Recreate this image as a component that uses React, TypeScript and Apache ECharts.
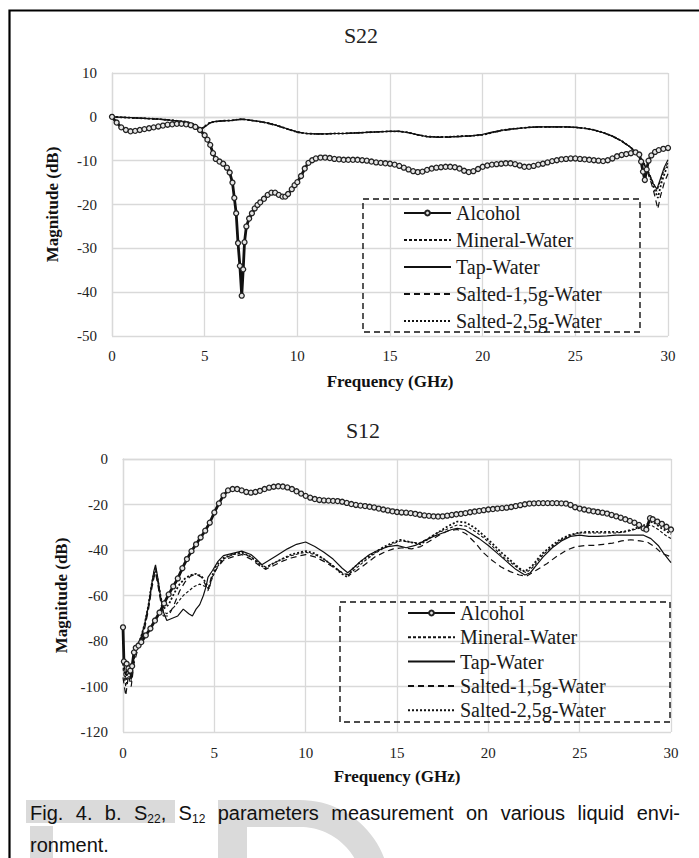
import React, { useEffect, useRef } from 'react';
import * as echarts from 'echarts';

const W = 699;
const H = 858;

const seriesNames = ['Alcohol', 'Mineral-Water', 'Tap-Water', 'Salted-1,5g-Water', 'Salted-2,5g-Water'];

// ---------- S22 ----------
const s22Alcohol = [
  [0, 0], [0.25, -1.3], [0.5, -2.4], [0.75, -3.0], [1.0, -3.3], [1.25, -3.2], [1.5, -3.0], [1.75, -2.8], [2.0, -2.6],
  [2.25, -2.4], [2.5, -2.2], [2.75, -2.0], [3.0, -1.8], [3.25, -1.7], [3.5, -1.6], [3.75, -1.6], [4.0, -1.7], [4.25, -1.9],
  [4.5, -2.3], [4.75, -3.0], [5.0, -4.2], [5.15, -5.2], [5.3, -6.4], [5.45, -8.3], [5.6, -9.6], [5.8, -10.2], [6.0, -10.7],
  [6.2, -11.6], [6.35, -12.7], [6.5, -15], [6.6, -18.5], [6.7, -22], [6.8, -28.8], [6.9, -34], [7.0, -40.8], [7.08, -34.8],
  [7.15, -28.6], [7.25, -25], [7.4, -23.2], [7.55, -22], [7.7, -20.9], [7.85, -20.1], [8.0, -19.5], [8.2, -18.7], [8.4, -17.8],
  [8.6, -17.3], [8.8, -17.3], [9.0, -17.8], [9.2, -18.2], [9.35, -18.2], [9.5, -17.6], [9.7, -16.5], [9.85, -15.6], [10.0, -14.9],
  [10.2, -13.5], [10.4, -11.8], [10.6, -10.5], [10.8, -9.9], [11.0, -9.5], [11.25, -9.3], [11.5, -9.3], [11.75, -9.4], [12.0, -9.6],
  [12.25, -9.7], [12.5, -9.8], [12.75, -9.8], [13.0, -9.8], [13.25, -9.8], [13.5, -9.9], [13.75, -10.0], [14.0, -10.2], [14.25, -10.4],
  [14.5, -10.5], [14.75, -10.6], [15.0, -10.7], [15.25, -10.9], [15.5, -11.2], [15.75, -11.6], [16.0, -12.0], [16.25, -12.4],
  [16.5, -12.6], [16.75, -12.5], [17.0, -12.1], [17.25, -11.8], [17.5, -11.6], [17.75, -11.5], [18.0, -11.4], [18.25, -11.4],
  [18.5, -11.5], [18.75, -11.8], [19.0, -12.3], [19.25, -12.6], [19.5, -12.4], [19.75, -11.9], [20.0, -11.4], [20.25, -11.1],
  [20.5, -10.9], [20.75, -10.8], [21.0, -10.7], [21.25, -10.6], [21.5, -10.6], [21.75, -10.8], [22.0, -11.1], [22.25, -11.4],
  [22.5, -11.4], [22.75, -11.2], [23.0, -10.9], [23.25, -10.7], [23.5, -10.4], [23.75, -10.1], [24.0, -9.9], [24.25, -9.7],
  [24.5, -9.6], [24.75, -9.5], [25.0, -9.5], [25.25, -9.6], [25.5, -9.7], [25.75, -9.8], [26.0, -9.9], [26.25, -10.0],
  [26.5, -10.1], [26.75, -9.9], [27.0, -9.5], [27.25, -9.0], [27.5, -8.7], [27.75, -8.5], [28.0, -8.3], [28.25, -8.1],
  [28.45, -8.6], [28.55, -10.2], [28.65, -12.5], [28.75, -14.4], [28.85, -12], [28.95, -10], [29.1, -8.8], [29.3, -8.0],
  [29.5, -7.6], [29.75, -7.3], [30.0, -7.1],
];

const s22Mineral = [
  [0, 0], [0.5, -0.1], [1, -0.2], [1.5, -0.3], [2, -0.4], [2.5, -0.5], [3, -0.7], [3.5, -0.9], [4, -1.1], [4.5, -1.8],
  [4.8, -2.8], [5.0, -2.2], [5.25, -1.4], [5.5, -1.1], [6, -0.9], [6.5, -0.8], [7, -0.5], [7.5, -0.8], [8, -1.1], [8.5, -1.5],
  [9, -2.1], [9.5, -2.8], [10, -3.5], [10.5, -3.8], [11, -3.9], [11.5, -3.9], [12, -3.8], [12.5, -3.8], [13, -3.7], [13.5, -3.6],
  [14, -3.5], [14.5, -3.4], [15, -3.3], [15.5, -3.3], [16, -3.6], [16.5, -4.1], [17, -4.5], [17.5, -4.6], [18, -4.6], [18.5, -4.5],
  [19, -4.4], [19.5, -4.3], [20, -4.1], [20.5, -3.6], [21, -3.1], [21.5, -2.8], [22, -2.6], [22.5, -2.4], [23, -2.3], [23.5, -2.3],
  [24, -2.3], [24.5, -2.3], [25, -2.4], [25.5, -2.6], [26, -3.0], [26.5, -3.6], [27, -4.4], [27.5, -5.5], [28, -7.0], [28.5, -9.2],
  [28.8, -11.2], [29.0, -13], [29.2, -15], [29.4, -17], [29.6, -14.5], [29.8, -12], [30, -10.5],
];

const s22Tap = [
  [0, 0], [0.5, -0.1], [1, -0.2], [1.5, -0.3], [2, -0.4], [2.5, -0.5], [3, -0.7], [3.5, -0.9], [4, -1.2], [4.5, -1.9],
  [4.8, -2.9], [5.0, -2.3], [5.25, -1.5], [5.5, -1.1], [6, -0.9], [6.5, -0.8], [7, -0.5], [7.5, -0.8], [8, -1.1], [8.5, -1.5],
  [9, -2.1], [9.5, -2.8], [10, -3.4], [10.5, -3.8], [11, -3.9], [11.5, -3.9], [12, -3.8], [12.5, -3.8], [13, -3.7], [13.5, -3.6],
  [14, -3.5], [14.5, -3.4], [15, -3.3], [15.5, -3.3], [16, -3.6], [16.5, -4.1], [17, -4.5], [17.5, -4.6], [18, -4.6], [18.5, -4.5],
  [19, -4.4], [19.5, -4.3], [20, -4.0], [20.5, -3.5], [21, -3.1], [21.5, -2.8], [22, -2.6], [22.5, -2.4], [23, -2.3], [23.5, -2.3],
  [24, -2.3], [24.5, -2.3], [25, -2.4], [25.5, -2.6], [26, -3.0], [26.5, -3.6], [27, -4.4], [27.5, -5.5], [28, -7.0], [28.5, -9.3],
  [28.8, -11.4], [29.0, -13.2], [29.2, -15.2], [29.4, -16.5], [29.6, -14], [29.8, -11.5], [30, -9.8],
];

const s22Salted1 = [
  [0, 0], [0.5, -0.1], [1, -0.2], [1.5, -0.3], [2, -0.4], [2.5, -0.6], [3, -0.7], [3.5, -0.9], [4, -1.2], [4.5, -1.9],
  [4.8, -2.8], [5.0, -2.2], [5.25, -1.4], [5.5, -1.1], [6, -0.9], [6.5, -0.8], [7, -0.6], [7.5, -0.8], [8, -1.1], [8.5, -1.6],
  [9, -2.2], [9.5, -2.9], [10, -3.5], [10.5, -3.8], [11, -3.9], [11.5, -3.9], [12, -3.8], [12.5, -3.8], [13, -3.7], [13.5, -3.6],
  [14, -3.5], [14.5, -3.4], [15, -3.3], [15.5, -3.3], [16, -3.6], [16.5, -4.1], [17, -4.5], [17.5, -4.7], [18, -4.7], [18.5, -4.6],
  [19, -4.5], [19.5, -4.3], [20, -4.1], [20.5, -3.6], [21, -3.2], [21.5, -2.9], [22, -2.6], [22.5, -2.4], [23, -2.3], [23.5, -2.3],
  [24, -2.3], [24.5, -2.3], [25, -2.4], [25.5, -2.6], [26, -3.0], [26.5, -3.6], [27, -4.4], [27.5, -5.6], [28, -7.1], [28.5, -9.4],
  [28.8, -11.6], [29.0, -13.8], [29.2, -16.5], [29.45, -21], [29.6, -18], [29.8, -15], [30, -13],
];

const s22Salted2 = [
  [0, 0], [0.5, -0.1], [1, -0.2], [1.5, -0.3], [2, -0.4], [2.5, -0.5], [3, -0.7], [3.5, -0.9], [4, -1.1], [4.5, -1.8],
  [4.8, -2.8], [5.0, -2.2], [5.25, -1.4], [5.5, -1.1], [6, -0.9], [6.5, -0.8], [7, -0.5], [7.5, -0.8], [8, -1.1], [8.5, -1.5],
  [9, -2.1], [9.5, -2.8], [10, -3.5], [10.5, -3.8], [11, -3.9], [11.5, -3.9], [12, -3.8], [12.5, -3.8], [13, -3.7], [13.5, -3.6],
  [14, -3.5], [14.5, -3.4], [15, -3.3], [15.5, -3.3], [16, -3.6], [16.5, -4.1], [17, -4.5], [17.5, -4.6], [18, -4.6], [18.5, -4.5],
  [19, -4.4], [19.5, -4.3], [20, -4.1], [20.5, -3.6], [21, -3.1], [21.5, -2.8], [22, -2.6], [22.5, -2.4], [23, -2.3], [23.5, -2.3],
  [24, -2.3], [24.5, -2.3], [25, -2.4], [25.5, -2.6], [26, -3.0], [26.5, -3.6], [27, -4.4], [27.5, -5.5], [28, -7.0], [28.5, -9.3],
  [28.8, -11.5], [29.0, -13.5], [29.2, -15.8], [29.45, -18.5], [29.65, -15], [29.85, -12.5], [30, -11],
];

// ---------- S12 ----------
const s12Alcohol = [
  [0, -74], [0.05, -89], [0.2, -90], [0.3, -92], [0.4, -93], [0.5, -91], [0.6, -85], [0.7, -83], [0.85, -82], [1.0, -80.5],
  [1.25, -77.5], [1.5, -74.5], [1.75, -71], [2.0, -67.5], [2.25, -63.5], [2.5, -59.5], [2.75, -56], [3.0, -52.5], [3.25, -48],
  [3.5, -44], [3.75, -40.5], [4.0, -37.5], [4.25, -34.5], [4.5, -31.5], [4.75, -28], [5.0, -23.5], [5.25, -19.5], [5.5, -16],
  [5.75, -13.8], [6.0, -13.2], [6.25, -13.2], [6.5, -13.8], [6.75, -14.5], [7.0, -14.8], [7.25, -14.5], [7.5, -14], [7.75, -13.2],
  [8.0, -12.6], [8.25, -12.2], [8.5, -12], [8.75, -12.1], [9.0, -12.5], [9.25, -13.2], [9.5, -14.2], [9.75, -15.2], [10.0, -16.2],
  [10.25, -17], [10.5, -17.6], [10.75, -18], [11.0, -18.2], [11.25, -18.3], [11.5, -18.4], [11.75, -18.5], [12.0, -18.8],
  [12.25, -19.3], [12.5, -19.8], [12.75, -20.2], [13.0, -20.5], [13.25, -20.7], [13.5, -21], [13.75, -21.3], [14.0, -21.8],
  [14.25, -22.2], [14.5, -22.6], [14.75, -23], [15.0, -23.3], [15.25, -23.5], [15.5, -23.6], [15.75, -23.8], [16.0, -24.1],
  [16.25, -24.5], [16.5, -24.8], [16.75, -25], [17.0, -25.2], [17.25, -25.3], [17.5, -25.2], [17.75, -24.9], [18.0, -24.6],
  [18.25, -24.3], [18.5, -24.1], [18.75, -23.8], [19.0, -23.4], [19.25, -23.1], [19.5, -22.8], [19.75, -22.5], [20.0, -22.2],
  [20.25, -22], [20.5, -21.8], [20.75, -21.6], [21.0, -21.4], [21.25, -21.1], [21.5, -20.7], [21.75, -20.3], [22.0, -19.9],
  [22.25, -19.6], [22.5, -19.5], [22.75, -19.4], [23.0, -19.4], [23.25, -19.4], [23.5, -19.4], [23.75, -19.4], [24.0, -19.5],
  [24.25, -19.6], [24.5, -20.2], [24.75, -21.2], [25.0, -21.8], [25.25, -22.2], [25.5, -22.6], [25.75, -23], [26.0, -23.3],
  [26.25, -23.6], [26.5, -24], [26.75, -24.6], [27.0, -25.2], [27.25, -25.8], [27.5, -26.5], [27.75, -27.2], [28.0, -28],
  [28.25, -29], [28.5, -30.5], [28.65, -31], [28.85, -26], [29.0, -26.5], [29.25, -27.5], [29.5, -28.5], [29.75, -29.8], [30.0, -31],
];

const s12Mineral = [
  [0, -92], [0.15, -100], [0.3, -93], [0.45, -98], [0.6, -88], [0.8, -83], [1.0, -79], [1.2, -73], [1.4, -65], [1.55, -57],
  [1.7, -51], [1.78, -49], [1.9, -54], [2.05, -61], [2.2, -67], [2.4, -68], [2.7, -66], [3.0, -63], [3.3, -60], [3.6, -58],
  [3.9, -56], [4.2, -55], [4.5, -56], [4.7, -57], [4.9, -52], [5.2, -47], [5.5, -44], [6.0, -42], [6.5, -41.5], [7.0, -43],
  [7.5, -46], [7.8, -47.5], [8.2, -46], [8.7, -44], [9.2, -42.5], [9.7, -41.5], [10.0, -41], [10.5, -42], [11.0, -44], [11.5, -47],
  [12.0, -50], [12.3, -51], [12.7, -48.5], [13.2, -45], [13.7, -42], [14.2, -39.5], [14.7, -37.5], [15.2, -36], [15.7, -36.5],
  [16.2, -37], [16.7, -35], [17.2, -32.5], [17.7, -31], [18.3, -29], [18.8, -29.5], [19.3, -32], [19.8, -35], [20.3, -39],
  [20.8, -43], [21.3, -46], [21.8, -49], [22.1, -50], [22.5, -47], [23.0, -42], [23.5, -38.5], [24.0, -35.5], [24.5, -33.5],
  [25.0, -32.5], [25.5, -32.5], [26.0, -32.5], [26.5, -32.5], [27.0, -32.5], [27.5, -32], [28.0, -31], [28.5, -30], [28.9, -29],
  [29.3, -31], [29.7, -33.5], [30.0, -35],
];

const s12Tap = [
  [0, -88], [0.15, -95], [0.3, -90], [0.45, -97], [0.6, -86], [0.8, -82], [1.0, -78], [1.2, -72], [1.4, -64], [1.55, -56],
  [1.7, -49], [1.78, -46.5], [1.9, -52], [2.05, -60], [2.2, -67], [2.4, -71], [2.7, -70], [3.0, -69], [3.3, -66], [3.6, -68],
  [3.8, -69], [4.0, -66], [4.2, -64], [4.4, -60], [4.55, -56], [4.65, -52], [4.9, -49], [5.2, -45], [5.5, -42.5], [6.0, -41.5],
  [6.5, -40.5], [7.0, -42], [7.3, -44], [7.6, -46.5], [8.0, -44.5], [8.4, -42.5], [9.0, -39.5], [9.5, -37.5], [10.0, -36.5],
  [10.5, -38.5], [11.0, -41], [11.5, -44], [12.0, -48], [12.3, -50], [12.6, -48], [13.0, -45], [13.5, -42], [14.0, -40],
  [14.5, -38.5], [15.0, -38], [15.5, -39], [16.0, -38], [16.5, -36], [17.0, -34], [17.5, -32.5], [18.0, -31], [18.3, -30.5],
  [18.7, -31], [19.0, -32.5], [19.5, -35], [20.0, -38], [20.5, -41.5], [21.0, -45], [21.5, -48.5], [22.0, -51], [22.3, -50],
  [22.7, -46], [23.0, -43], [23.5, -39], [24.0, -36], [24.5, -34], [25.0, -33.5], [25.5, -34], [26.0, -34], [26.5, -33.8],
  [27.0, -33.5], [27.5, -33.5], [28.0, -33.5], [28.5, -33.5], [28.9, -35], [29.3, -38], [29.6, -41.5], [30.0, -45.5],
];

const s12Salted1 = [
  [0, -96], [0.15, -104], [0.3, -95], [0.45, -100], [0.6, -90], [0.8, -84], [1.0, -80], [1.2, -74], [1.4, -66], [1.55, -58],
  [1.7, -52], [1.78, -50], [1.9, -55], [2.05, -62], [2.2, -69], [2.5, -69], [2.8, -64], [3.1, -58], [3.4, -54], [3.7, -51.5],
  [4.0, -50.5], [4.3, -52], [4.5, -55], [4.65, -58], [4.8, -53], [5.1, -48.5], [5.5, -44.5], [6.0, -43], [6.5, -42], [7.0, -44],
  [7.5, -47], [7.8, -48.5], [8.2, -47], [8.7, -45], [9.2, -43.5], [9.7, -42.5], [10.0, -42], [10.5, -43], [11.0, -45], [11.5, -47.5],
  [12.0, -50], [12.4, -51], [12.8, -49], [13.3, -46], [13.8, -43], [14.3, -41], [14.8, -39.5], [15.3, -39], [15.8, -39.5],
  [16.3, -38.5], [16.8, -36], [17.3, -33.5], [17.8, -31.5], [18.3, -31], [18.8, -33], [19.3, -37], [19.7, -41], [20.2, -44.5],
  [20.7, -47.5], [21.2, -49.5], [21.7, -51], [22.1, -51.5], [22.6, -49], [23.2, -46], [23.8, -42.5], [24.3, -40], [24.8, -38.5],
  [25.3, -38], [25.8, -38], [26.3, -37.5], [26.8, -37], [27.3, -36], [27.8, -35.5], [28.3, -36], [28.7, -36.5], [29.1, -38.5],
  [29.5, -41.5], [30.0, -43],
];

const s12Salted2 = [
  [0, -90], [0.15, -97], [0.3, -92], [0.45, -96], [0.6, -87], [0.8, -82], [1.0, -78], [1.2, -72], [1.4, -64], [1.55, -56],
  [1.7, -50], [1.78, -48], [1.9, -53], [2.05, -60], [2.2, -66], [2.5, -64], [2.8, -59], [3.1, -55], [3.4, -52.5], [3.7, -51],
  [4.0, -50.5], [4.3, -51.5], [4.5, -54], [4.7, -57], [4.85, -52], [5.1, -47], [5.5, -43.5], [6.0, -42], [6.5, -41], [7.0, -43],
  [7.5, -46.5], [7.8, -48], [8.2, -46], [8.7, -44], [9.2, -42], [9.7, -41], [10.0, -40.5], [10.5, -41.5], [11.0, -44], [11.5, -47],
  [11.9, -50], [12.3, -52], [12.6, -48], [13.2, -44], [13.7, -41.5], [14.2, -39], [14.7, -37], [15.2, -35.5], [15.7, -36.5],
  [16.3, -37.5], [16.8, -34.5], [17.3, -32], [17.8, -29.5], [18.3, -27.5], [18.8, -28], [19.3, -30.5], [19.8, -34], [20.2, -37],
  [20.7, -41], [21.2, -44.5], [21.7, -48], [22.0, -49.5], [22.4, -47], [22.9, -42], [23.4, -38.5], [23.9, -35.5], [24.4, -33.5],
  [24.9, -32.5], [25.4, -32], [25.9, -32], [26.4, -32], [26.9, -32], [27.4, -32], [27.9, -31], [28.3, -29.8], [28.7, -28.5],
  [29.0, -27.5], [29.4, -30], [29.7, -31.5], [30.0, -33],
];

const captionLine1 = ['Fig.', '4.', 'b.', 'S|22|,', 'S|12|', 'parameters', 'measurement', 'on', 'various', 'liquid', 'envi-'];
const captionLine2 = 'ronment.';

const SERIF = 'Liberation Serif, serif';
const SANS = 'Liberation Sans, sans-serif';
const GRID_COLOR = '#d9d9d9';
const TEXT_COLOR = '#222';

function lineStyles() {
  return [
    { width: 2.8, type: 'solid' as any },
    { width: 1.1, type: [3, 2] as any },
    { width: 1.2, type: 'solid' as any },
    { width: 1.2, type: [6, 4] as any },
    { width: 1.8, type: [2, 2] as any },
  ];
}

function makeSeries(gi: number, datasets: number[][][]) {
  const ls = lineStyles();
  return datasets.map((d, i) => ({
    name: seriesNames[i],
    type: 'line',
    xAxisIndex: gi,
    yAxisIndex: gi,
    data: d,
    symbol: i === 0 ? 'circle' : 'none',
    symbolSize: 5,
    showSymbol: i === 0,
    showAllSymbol: true,
    z: i === 0 ? 3 : 2,
    lineStyle: { color: '#111', width: ls[i].width, type: ls[i].type },
    itemStyle: { color: '#e6e6e6', borderColor: '#222', borderWidth: 1.3 },
    emphasis: { disabled: true },
  }));
}

function axisCommon() {
  return {
    axisLine: { show: true, lineStyle: { color: GRID_COLOR, width: 1.3 } },
    axisTick: { show: false },
    splitLine: { show: true, lineStyle: { color: GRID_COLOR, width: 1.3 } },
    nameTextStyle: { fontFamily: SERIF, fontSize: 17, fontWeight: 'bold', color: '#111' },
  };
}

function buildCaption(): any[] {
  const canvas = document.createElement('canvas');
  const ctx = canvas.getContext('2d')!;
  const FS = 20;
  const SUB = 12;
  const measure = (t: string, s: number) => {
    ctx.font = `${s}px Liberation Sans`;
    return ctx.measureText(t).width;
  };
  const words = captionLine1.map((w) => {
    const parts = w.split('|');
    const pieces = parts
      .map((t, i) => ({ t, sub: i === 1 }))
      .filter((p) => p.t.length > 0);
    const widths = pieces.map((p) => measure(p.t, p.sub ? SUB : FS));
    return { pieces, widths, total: widths.reduce((a, b) => a + b, 0) };
  });
  const x0 = 30;
  const x1 = 680;
  const sum = words.reduce((a, w) => a + w.total, 0);
  const gap = (x1 - x0 - sum) / (words.length - 1);
  const base1 = 820;
  const base2 = 852;
  const els: any[] = [];
  let x = x0;
  words.forEach((w) => {
    let px = x;
    w.pieces.forEach((p, i) => {
      const s = p.sub ? SUB : FS;
      const base = p.sub ? base1 + 3 : base1;
      els.push({
        type: 'text',
        x: px,
        y: base - 0.36 * s,
        z: 20,
        style: { text: p.t, fill: '#111', font: `${s}px ${SANS}`, align: 'left', verticalAlign: 'middle' },
      });
      px += w.widths[i];
    });
    x += w.total + gap;
  });
  els.push({
    type: 'text',
    x: x0,
    y: base2 - 0.36 * FS,
    z: 20,
    style: { text: captionLine2, fill: '#111', font: `${FS}px ${SANS}`, align: 'left', verticalAlign: 'middle' },
  });
  return els;
}

function watermark(): any[] {
  const pts: number[][] = [[218, 858], [218, 800], [300, 800]];
  const t1 = Math.acos(32 / 90);
  for (let k = 1; k <= 20; k++) {
    const t = (t1 * k) / 20;
    pts.push([300 + 90 * Math.sin(t), 890 - 90 * Math.cos(t)]);
  }
  const t2 = Math.acos(32 / 63);
  for (let k = 20; k >= 0; k--) {
    const t = (t2 * k) / 20;
    pts.push([300 + 63 * Math.sin(t), 890 - 63 * Math.cos(t)]);
  }
  pts.push([247, 827], [247, 858]);
  const fill = '#dadada';
  return [
    { type: 'rect', z: 1, shape: { x: 26, y: 800, width: 149, height: 23 }, style: { fill } },
    { type: 'rect', z: 1, shape: { x: 30, y: 826, width: 23, height: 32 }, style: { fill } },
    { type: 'polygon', z: 1, shape: { points: pts }, style: { fill } },
  ];
}

function legendData() {
  return seriesNames.map((n, i) =>
    i === 0
      ? { name: n }
      : { name: n, itemStyle: { color: 'rgba(0,0,0,0)', borderColor: 'rgba(0,0,0,0)', borderWidth: 0, opacity: 0 } },
  );
}

function buildOption(): any {
  const legendCommon = {
    orient: 'vertical',
    itemWidth: 47,
    itemHeight: 6,
    padding: 0,
    selectedMode: false,
    textStyle: { fontFamily: SERIF, fontSize: 20, color: '#1a1a1a', lineHeight: 20 },
    data: legendData(),
  };
  return {
    animation: false,
    backgroundColor: '#fff',
    grid: [
      { left: 112, top: 73, width: 556, height: 263 },
      { left: 123, top: 459, width: 548, height: 273 },
    ],
    xAxis: [
      {
        gridIndex: 0, type: 'value', min: 0, max: 30, interval: 5, ...axisCommon(),
        axisLabel: { fontFamily: SERIF, fontSize: 15, color: TEXT_COLOR, margin: 12 },
        name: 'Frequency (GHz)', nameLocation: 'middle', nameGap: 37,
      },
      {
        gridIndex: 1, type: 'value', min: 0, max: 30, interval: 5, ...axisCommon(),
        axisLabel: { fontFamily: SERIF, fontSize: 15, color: TEXT_COLOR, margin: 13 },
        name: 'Frequency (GHz)', nameLocation: 'middle', nameGap: 36,
      },
    ],
    yAxis: [
      {
        gridIndex: 0, type: 'value', min: -50, max: 10, interval: 10, ...axisCommon(),
        axisLabel: { fontFamily: SERIF, fontSize: 15, color: TEXT_COLOR, margin: 15 },
        name: 'Magnitude (dB)', nameLocation: 'middle', nameGap: 51,
      },
      {
        gridIndex: 1, type: 'value', min: -120, max: 0, interval: 20, ...axisCommon(),
        axisLabel: { fontFamily: SERIF, fontSize: 15, color: TEXT_COLOR, margin: 15 },
        name: 'Magnitude (dB)', nameLocation: 'middle', nameGap: 52,
      },
    ],
    legend: [
      { ...legendCommon, left: 403, top: 203, itemGap: 7 },
      { ...legendCommon, left: 407, top: 603, itemGap: 4.3 },
    ],
    series: [
      ...makeSeries(0, [s22Alcohol, s22Mineral, s22Tap, s22Salted1, s22Salted2]),
      ...makeSeries(1, [s12Alcohol, s12Mineral, s12Tap, s12Salted1, s12Salted2]),
    ],
    graphic: [
      ...watermark(),
      { type: 'rect', z: 30, shape: { x: 9.5, y: 10.5, width: 720, height: 900 }, style: { fill: 'none', stroke: '#000', lineWidth: 2.2 } },
      { type: 'text', z: 20, x: 361, y: 35, style: { text: 'S22', fill: TEXT_COLOR, font: `22px ${SERIF}`, align: 'center', verticalAlign: 'middle' } },
      { type: 'text', z: 20, x: 363, y: 430, style: { text: 'S12', fill: TEXT_COLOR, font: `22px ${SERIF}`, align: 'center', verticalAlign: 'middle' } },
      { type: 'rect', z: 20, shape: { x: 363, y: 199, width: 277, height: 133 }, style: { fill: 'none', stroke: '#111', lineWidth: 1.4, lineDash: [6, 4] } },
      { type: 'rect', z: 20, shape: { x: 340, y: 602, width: 330, height: 120 }, style: { fill: 'none', stroke: '#111', lineWidth: 1.4, lineDash: [6, 4] } },
      ...buildCaption(),
    ],
  };
}

export default function App() {
  const ref = useRef<HTMLDivElement>(null);
  useEffect(() => {
    const el = ref.current!;
    const chart = echarts.init(el, undefined, { renderer: 'svg', width: W, height: H });
    chart.setOption(buildOption());
    return () => chart.dispose();
  }, []);
  return <div ref={ref} style={{ position: 'absolute', left: 0, top: 0, width: W, height: H, background: '#fff' }} />;
}
